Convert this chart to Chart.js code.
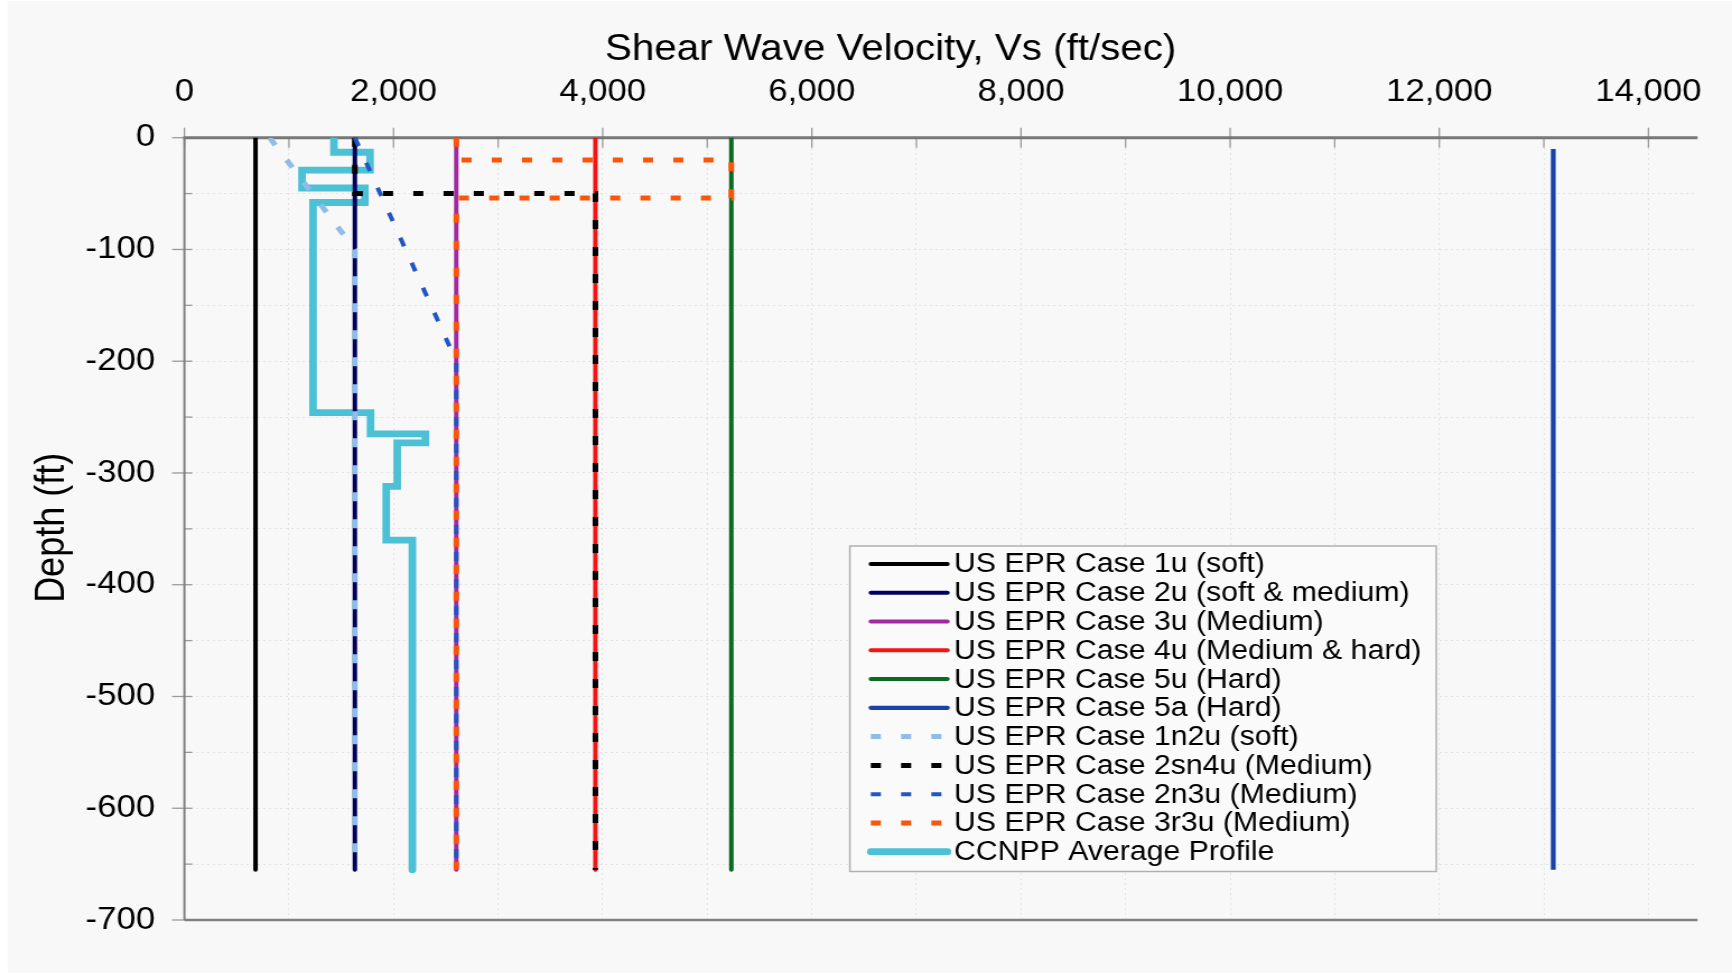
<!DOCTYPE html>
<html>
<head>
<meta charset="utf-8">
<title>Shear Wave Velocity Profiles</title>
<script src="https://cdn.jsdelivr.net/npm/chart.js@4/dist/chart.umd.min.js"></script>
<style>
  html, body { margin: 0; padding: 0; background: #ffffff; overflow: hidden; }
  #wrap {
    position: absolute; left: 0; top: 0;
    width: 1546px; height: 975px;
    transform: scaleX(1.12031); transform-origin: 0 0;
  }
</style>
</head>
<body>
<div id="wrap"><canvas id="c" width="1546" height="975"></canvas></div>
<script>
// ---- Series names (legend order) ----
const seriesNames = [
  'US EPR Case 1u (soft)',
  'US EPR Case 2u (soft & medium)',
  'US EPR Case 3u (Medium)',
  'US EPR Case 4u (Medium & hard)',
  'US EPR Case 5u (Hard)',
  'US EPR Case 5a (Hard)',
  'US EPR Case 1n2u (soft)',
  'US EPR Case 2sn4u (Medium)',
  'US EPR Case 2n3u (Medium)',
  'US EPR Case 3r3u (Medium)',
  'CCNPP Average Profile'
];

// ---- Shear wave velocity (ft/sec) and depth (ft) for each profile ----
const vs1u    = [680, 680];
const depth1u = [0, -655];

const vs2u    = [1630, 1630];
const depth2u = [0, -655];

const vs3u    = [2600, 2600];
const depth3u = [0, -655];

const vs4u    = [3930, 3930];
const depth4u = [0, -655];

const vs5u    = [5230, 5230];
const depth5u = [0, -655];

const vs5a    = [13090, 13090];
const depth5a = [-10, -655];

const vs1n2u    = [815, 1630, 1630];
const depth1n2u = [0, -100, -655];

const vs2sn4u    = [1630, 1630, 3930, 3930];
const depth2sn4u = [0, -50, -50, -655];

const vs2n3u    = [1630, 2600, 2600];
const depth2n3u = [0, -200, -655];

const vs3r3u    = [2600, 2600, 5230, 5230, 2600, 2600];
const depth3r3u = [0, -20, -20, -54, -54, -655];

const vsCCNPP    = [1430, 1430, 1775, 1775, 1125, 1125, 1725, 1725, 1230, 1230,
                    1780, 1780, 2305, 2305, 2035, 2035, 1930, 1930, 2180, 2180];
const depthCCNPP = [0, -13, -13, -29, -29, -45, -45, -58, -58, -246,
                    -246, -265, -265, -273, -273, -312, -312, -360, -360, -655];

// ---- Axis ranges and tick steps ----
const xMin = 0, xMax = 14470, xStep = 1000, xLabelStep = 2000, xLastLabel = 14000;
const yMin = -700, yMax = 0, yStep = 50, yLabelStep = 100;

const velocities = [vs1u, vs2u, vs3u, vs4u, vs5u, vs5a, vs1n2u, vs2sn4u, vs2n3u, vs3r3u, vsCCNPP];
const depths     = [depth1u, depth2u, depth3u, depth4u, depth5u, depth5a, depth1n2u, depth2sn4u, depth2n3u, depth3r3u, depthCCNPP];

// ---- Line styles ----
const DASH = [9, 18];
const styles = [
  { color: '#000000', width: 4,   dash: [],   cap: 'round' },
  { color: '#00005e', width: 4,   dash: [],   cap: 'round' },
  { color: '#a02aa0', width: 4,   dash: [],   cap: 'round' },
  { color: '#f51414', width: 4,   dash: [],   cap: 'round' },
  { color: '#086b1e', width: 4,   dash: [],   cap: 'round' },
  { color: '#1a42a8', width: 4.3, dash: [],   cap: 'butt' },
  { color: '#8fbde8', width: 5,   dash: DASH, cap: 'butt' },
  { color: '#000000', width: 5,   dash: DASH, cap: 'butt' },
  { color: '#2255c4', width: 4,   dash: DASH, cap: 'butt' },
  { color: '#fa560a', width: 5,   dash: DASH, cap: 'butt' },
  { color: '#4cc0d4', width: 6.8, dash: [],   cap: 'round' }
];

const FONT = "'Liberation Sans', Arial, Helvetica, sans-serif";

const datasets = seriesNames.map((name, i) => ({
  label: name,
  data: velocities[i].map((v, k) => ({ x: v, y: depths[i][k] })),
  showLine: true,
  borderColor: styles[i].color,
  backgroundColor: styles[i].color,
  borderWidth: styles[i].width,
  borderDash: styles[i].dash,
  borderCapStyle: styles[i].cap,
  borderJoinStyle: 'miter',
  pointRadius: 0,
  pointHoverRadius: 0,
  tension: 0,
  // later series drawn above earlier ones; the average profile sits underneath
  order: i === seriesNames.length - 1 ? 100 : 50 - i
}));

const fmt = v => v.toLocaleString('en-US');

// Background panel
const backgroundPlugin = {
  id: 'panel',
  beforeDraw(chart) {
    const ctx = chart.ctx;
    ctx.save();
    ctx.fillStyle = '#ffffff';
    ctx.fillRect(0, 0, chart.width, chart.height);
    ctx.fillStyle = '#f8f8f8';
    ctx.fillRect(7, 1, chart.width - 7, chart.height - 3);
    ctx.restore();
  }
};

// Axis lines and tick marks (crossing the axes)
const axesPlugin = {
  id: 'axesFrame',
  beforeDatasetsDraw(chart) {
    const ctx = chart.ctx;
    const xs = chart.scales.x, ys = chart.scales.y;
    const area = chart.chartArea;
    const y0 = ys.getPixelForValue(0);
    const yBottom = ys.getPixelForValue(yMin);
    const x0 = xs.getPixelForValue(0);
    ctx.save();
    // tick marks
    ctx.strokeStyle = '#9a9a9a';
    ctx.lineWidth = 1.3;
    xs.ticks.forEach(t => {
      const px = xs.getPixelForValue(t.value);
      const major = t.value % xLabelStep === 0;
      ctx.beginPath();
      ctx.moveTo(px, major ? y0 - 10 : y0);
      ctx.lineTo(px, y0 + 10);
      ctx.stroke();
    });
    ys.ticks.forEach(t => {
      const py = ys.getPixelForValue(t.value);
      const major = t.value % yLabelStep === 0;
      ctx.beginPath();
      ctx.moveTo(major ? x0 - 11 : x0, py);
      ctx.lineTo(x0 + 7, py);
      ctx.stroke();
    });
    // axis lines
    ctx.strokeStyle = '#808080';
    ctx.lineWidth = 2;
    ctx.beginPath();
    ctx.moveTo(x0, y0);
    ctx.lineTo(x0, yBottom);
    ctx.stroke();
    ctx.lineWidth = 2.5;
    ctx.beginPath();
    ctx.moveTo(area.left, yBottom);
    ctx.lineTo(area.right, yBottom);
    ctx.stroke();
    ctx.strokeStyle = '#777777';
    ctx.lineWidth = 3;
    ctx.beginPath();
    ctx.moveTo(area.left - 1, y0);
    ctx.lineTo(area.right, y0);
    ctx.stroke();
    ctx.restore();
  }
};

// Axis titles
const titlesPlugin = {
  id: 'axisTitles',
  afterDraw(chart) {
    const ctx = chart.ctx;
    const area = chart.chartArea;
    ctx.save();
    ctx.fillStyle = '#000000';
    ctx.font = `36px ${FONT}`;
    ctx.textAlign = 'center';
    ctx.textBaseline = 'alphabetic';
    ctx.fillText('Shear Wave Velocity, Vs (ft/sec)', 795, 60);
    ctx.translate(56.5, (area.top + area.bottom) / 2 - 1);
    ctx.rotate(-Math.PI / 2);
    ctx.fillText('Depth (ft)', 0, 0);
    ctx.restore();
  }
};

// Boxed legend inside the plot
const legendBoxPlugin = {
  id: 'legendBox',
  afterDraw(chart) {
    const ctx = chart.ctx;
    const box = { left: 758.6, top: 546, right: 1282, bottom: 871.5 };
    const rowTop = 564, rowStep = 28.77;
    const lineX1 = 777.3, lineX2 = 845.7, textX = 851.5;
    ctx.save();
    ctx.fillStyle = '#fafafa';
    ctx.fillRect(box.left, box.top, box.right - box.left, box.bottom - box.top);
    ctx.strokeStyle = '#b0b0b0';
    ctx.lineWidth = 1.5;
    ctx.strokeRect(box.left, box.top, box.right - box.left, box.bottom - box.top);
    chart.data.datasets.forEach((ds, i) => {
      const y = rowTop + rowStep * i;
      ctx.save();
      ctx.strokeStyle = ds.borderColor;
      ctx.lineWidth = ds.borderWidth;
      ctx.setLineDash(ds.borderDash || []);
      ctx.lineCap = (ds.borderDash && ds.borderDash.length) ? 'butt' : 'round';
      ctx.beginPath();
      ctx.moveTo(lineX1, y);
      ctx.lineTo(lineX2, y);
      ctx.stroke();
      ctx.restore();
      ctx.fillStyle = '#000000';
      ctx.font = `27px ${FONT}`;
      ctx.textAlign = 'left';
      ctx.textBaseline = 'middle';
      ctx.fillText(ds.label, textX, y + 1);
    });
    ctx.restore();
  }
};

const gridDash = [2, 3];

new Chart(document.getElementById('c'), {
  type: 'scatter',
  data: { datasets },
  options: {
    responsive: false,
    animation: false,
    events: [],
    layout: { autoPadding: false, padding: { left: 0, top: 0, right: 24.4, bottom: 55 } },
    plugins: {
      legend: { display: false },
      tooltip: { enabled: false },
      title: { display: false }
    },
    scales: {
      x: {
        type: 'linear',
        position: 'top',
        min: xMin,
        max: xMax,
        afterBuildTicks: s => {
          const list = [];
          for (let v = xMin; v <= xMax; v += xStep) list.push({ value: v });
          s.ticks = list;
        },
        afterFit: s => { s.height = 137.7; },
        ticks: {
          stepSize: xStep,
          maxTicksLimit: 100,
          autoSkip: false,
          maxRotation: 0,
          minRotation: 0,
          padding: 26.4,
          color: '#000000',
          font: { family: FONT, size: 31 },
          callback: v => (v % xLabelStep === 0 && v <= xLastLabel) ? fmt(v) : ''
        },
        grid: {
          drawTicks: false,
          color: c => (c.tick && c.tick.value === 0) ? 'rgba(0,0,0,0)' : '#e3e3e3',
          lineWidth: 1
        },
        border: { display: false, dash: gridDash }
      },
      y: {
        type: 'linear',
        position: 'left',
        min: yMin,
        max: yMax,
        afterBuildTicks: s => {
          const list = [];
          for (let v = yMin; v <= yMax; v += yStep) list.push({ value: v });
          s.ticks = list;
        },
        afterFit: s => { s.width = 164.6; },
        ticks: {
          stepSize: yStep,
          maxTicksLimit: 100,
          autoSkip: false,
          padding: 26.2,
          color: '#000000',
          font: { family: FONT, size: 31 },
          callback: v => (v % yLabelStep === 0) ? String(v) : ''
        },
        grid: {
          drawTicks: false,
          color: c => (c.tick && (c.tick.value === yMin || c.tick.value === yMax)) ? 'rgba(0,0,0,0)' : '#e3e3e3',
          lineWidth: 1
        },
        border: { display: false, dash: gridDash }
      }
    }
  },
  plugins: [backgroundPlugin, axesPlugin, titlesPlugin, legendBoxPlugin]
});
</script>
</body>
</html>
